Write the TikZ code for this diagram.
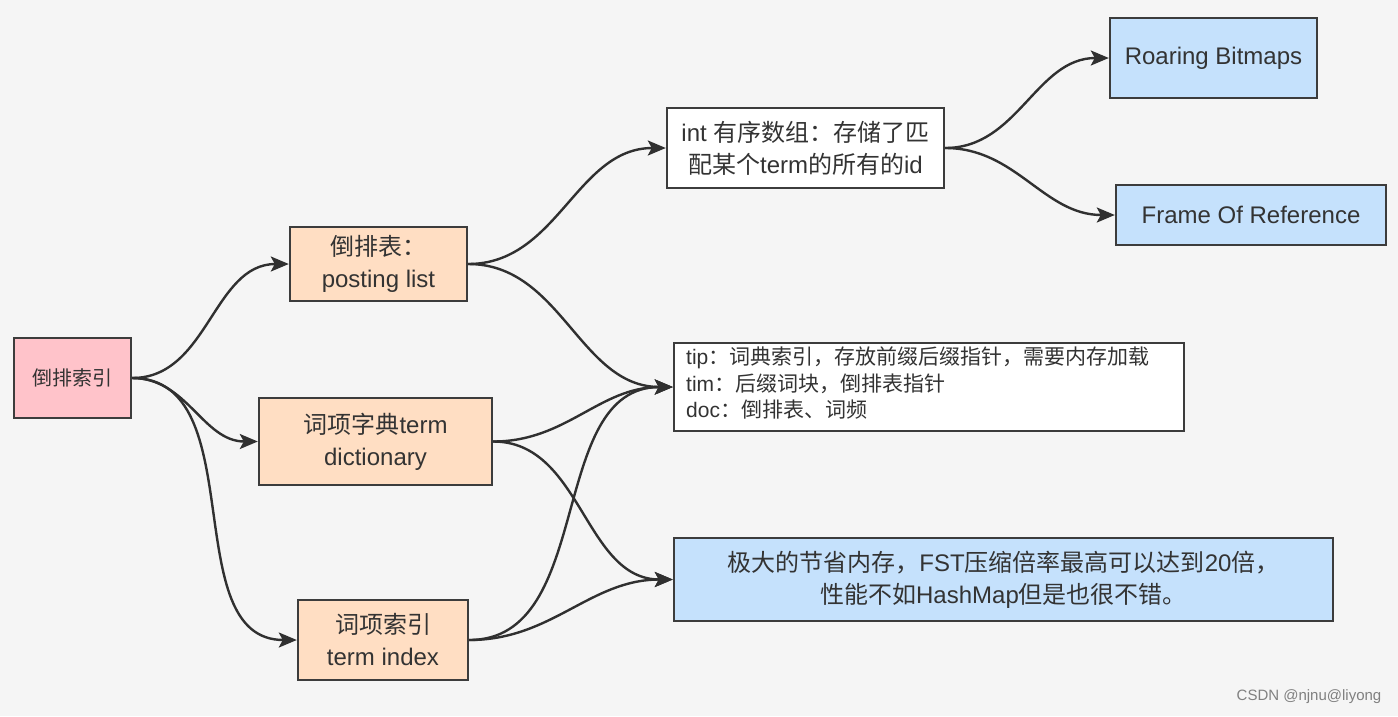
\documentclass[tikz,border=0pt]{standalone}
\usepackage{fontspec}
\setmainfont{Liberation Sans}
\newfontfamily\cjk{Noto Sans CJK SC}
\usetikzlibrary{arrows.meta}
\definecolor{bg}{HTML}{F5F5F5}
\definecolor{pinkf}{HTML}{FFC3CA}
\definecolor{peach}{HTML}{FFDEC3}
\definecolor{bluef}{HTML}{C5E1FC}
\definecolor{edgec}{HTML}{3C3C3C}
\definecolor{linec}{HTML}{303030}
\definecolor{txt}{HTML}{333333}
\begin{document}
\begin{tikzpicture}[x=1pt,y=-1pt,
  box/.style={draw=edgec, line width=2.4pt, text=txt, inner sep=0pt, align=center,
    font=\fontsize{24}{32}\selectfont},
  conn/.style={draw=linec, line width=2.4pt, -{Stealth[length=18pt,width=15pt,inset=4pt]}, out=0, in=180},
]
\fill[bg] (0,0) rectangle (1398,716);
\useasboundingbox (0,0) rectangle (1398,716);

\node[box, fill=pinkf, minimum width=117, minimum height=80, font=\fontsize{20}{26}\selectfont] (root) at (72.5,378) {\cjk 倒排索引};
\node[box, fill=peach, minimum width=177, minimum height=74] (post) at (378.5,264) {{\cjk 倒排表：}\\posting list};
\node[box, fill=peach, minimum width=233, minimum height=87] (dict) at (375.5,441.5) {{\cjk 词项字典}term\\dictionary};
\node[box, fill=peach, minimum width=170, minimum height=80] (tidx) at (383,640) {{\cjk 词项索引}\\term index};
\node[box, fill=white, minimum width=277, minimum height=80] (intb) at (805.5,148) {int {\cjk 有序数组：存储了匹}\\{\cjk 配某个}term{\cjk 的所有的}id};
\node[box, fill=bluef, minimum width=207, minimum height=80] (roar) at (1213.5,58) {Roaring Bitmaps};
\node[box, fill=bluef, minimum width=270, minimum height=60] (frame) at (1251,215) {Frame Of Reference};
\node[box, fill=white, minimum width=510, minimum height=88] (tip) at (929,387) {};
\node[text=txt, anchor=north west, inner sep=0pt, align=left, font=\fontsize{21}{26.5}\selectfont] (tiptext) at (686,347)
  {tip{\cjk ：词典索引，存放前缀后缀指针，需要内存加载}\\tim{\cjk ：后缀词块，倒排表指针}\\doc{\cjk ：倒排表、词频}};
\node[box, fill=bluef, minimum width=659, minimum height=83] (fst) at (1003.5,579.5) {{\cjk 极大的节省内存，}FST{\cjk 压缩倍率最高可以达到}20{\cjk 倍，}\\{\cjk 性能不如}HashMap{\cjk 但是也很不错。}};
\node[text=gray, font=\fontsize{15}{18}\selectfont, inner sep=0pt] (wm) at (1309,697) {CSDN @njnu@liyong};

\draw[conn] (root.east) to (post.west);
\draw[conn] (root.east) to (dict.west);
\draw[conn] (root.east) to (tidx.west);
\draw[conn] (post.east) to (intb.west);
\draw[conn] (post.east) to (tip.west);
\draw[conn] (dict.east) to (tip.west);
\draw[conn] (dict.east) to (fst.west);
\draw[conn] (tidx.east) to (tip.west);
\draw[conn] (tidx.east) to (fst.west);
\draw[conn] (intb.east) to (roar.west);
\draw[conn] (intb.east) to (frame.west);
\end{tikzpicture}
\end{document}
